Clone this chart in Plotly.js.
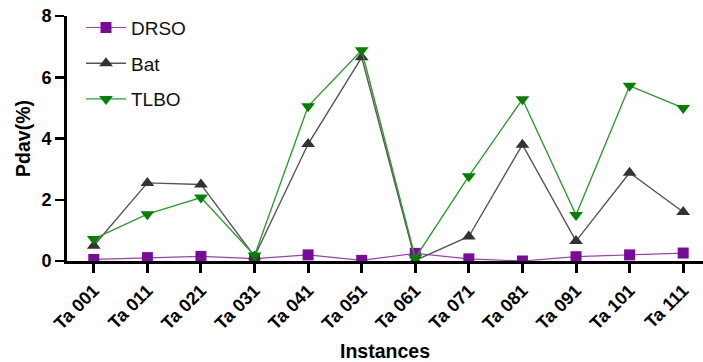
<!DOCTYPE html>
<html><head><meta charset="utf-8">
<script src="https://cdn.plot.ly/plotly-3.0.1.min.js"></script>
<style>html,body{margin:0;padding:0;background:#fff;}#chart{width:703px;height:362px;}</style>
</head><body><div id="chart"></div>
<script>
const categories = ["Ta 001","Ta 011","Ta 021","Ta 031","Ta 041","Ta 051","Ta 061","Ta 071","Ta 081","Ta 091","Ta 101","Ta 111"];
const drso = [0.05,0.11,0.15,0.08,0.2,0.02,0.25,0.07,0.0,0.14,0.2,0.26];
const bat  = [0.5,2.55,2.5,0.15,3.82,6.65,0.02,0.8,3.8,0.65,2.88,1.6];
const tlbo = [0.72,1.53,2.07,0.18,5.05,6.88,0.1,2.77,5.28,1.5,5.72,5.0];
const yTicks = [0,2,4,6,8];

const xIdx = categories.map((c,i)=>i);
const font = "'Liberation Sans', Arial, sans-serif";
const traces = [
  {x:xIdx, y:drso, name:"DRSO", legendgroup:"a", mode:"lines+markers", type:"scatter",
   line:{color:"#9a3fb5", width:1.2}, marker:{symbol:"square", size:11, color:"#7a0a99"}},
  {x:xIdx, y:bat, name:"Bat", legendgroup:"b", mode:"lines+markers", type:"scatter",
   line:{color:"#555555", width:1.4}, marker:{symbol:"triangle-up", size:12, color:"#333333"}},
  {x:xIdx, y:tlbo, name:"TLBO", legendgroup:"c", mode:"lines+markers", type:"scatter",
   line:{color:"#2e9a2e", width:1.4}, marker:{symbol:"triangle-down", size:12, color:"#008000"}}
];
const layout = {
  width:703, height:362,
  margin:{l:67, r:0, t:16, b:101},
  paper_bgcolor:"#fff", plot_bgcolor:"#fff",
  showlegend:true,
  legend:{x:0.022, y:1.03, xanchor:"left", yanchor:"top", bgcolor:"rgba(0,0,0,0)",
          traceorder:"grouped", tracegroupgap:8,
          font:{family:font, size:19, color:"#111"}, itemwidth:40},
  xaxis:{range:[-0.5,11.37], tickvals:xIdx, ticktext:categories, tickangle:-45,
         showgrid:false, zeroline:false, showline:true, linecolor:"#000", linewidth:3,
         ticks:"outside", ticklen:9, tickwidth:3, tickcolor:"#000",
         tickfont:{family:font, size:18, color:"#000", weight:"bold"},
         title:{text:"Instances", font:{family:font, size:19.5, color:"#000", weight:"bold"}, standoff:14}},
  yaxis:{range:[0,8], tickvals:yTicks, ticktext:yTicks.map(String),
         showgrid:false, zeroline:false, showline:true, linecolor:"#000", linewidth:3,
         ticks:"outside", ticklen:9, tickwidth:2.5, tickcolor:"#000",
         tickfont:{family:font, size:18, color:"#000", weight:"bold"},
         title:{text:"Pdav(%)", font:{family:font, size:19.5, color:"#000", weight:"bold"}, standoff:6}}
};
Plotly.newPlot("chart", traces, layout, {displayModeBar:false, staticPlot:true});
</script></body></html>
